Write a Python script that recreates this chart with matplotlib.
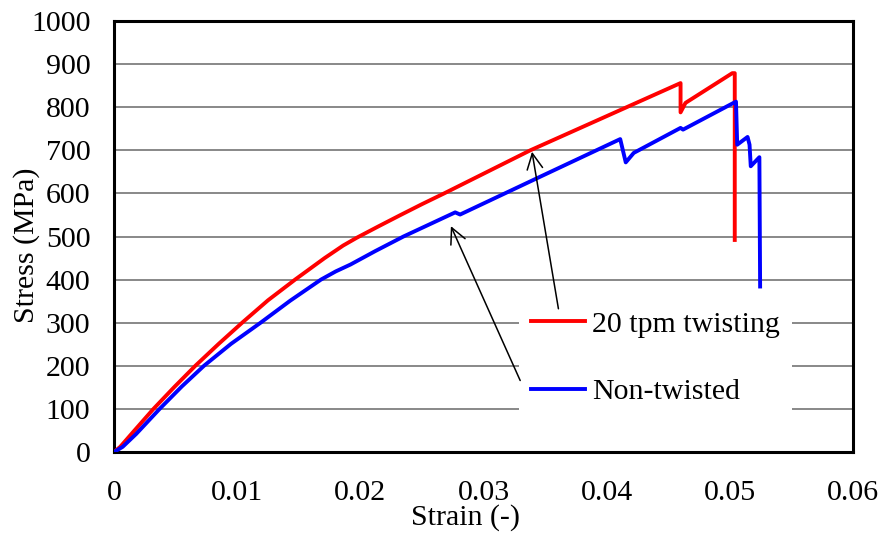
import matplotlib
matplotlib.use("Agg")
import matplotlib.pyplot as plt

plt.rcParams["font.family"] = ["Liberation Serif", "DejaVu Serif"]
FS = 21.5

# 20 tpm twisting (red)
red_strain = [0, 0.0005, 0.0016, 0.0032, 0.0049, 0.0066, 0.0085, 0.0104, 0.0125, 0.0147,
              0.0171, 0.0186, 0.0197, 0.0215, 0.0232, 0.0250, 0.0268, 0.0338, 0.0460,
              0.0460, 0.0464, 0.0502, 0.0504, 0.0504]
red_stress = [0, 12, 48, 100, 151, 200, 251, 300, 352, 400,
              450, 479, 497, 524, 549, 575, 600, 700, 856,
              788, 810, 879, 879, 492]
# Non-twisted (blue)
blue_strain = [0, 0.0007, 0.0018, 0.0037, 0.0055, 0.0073, 0.0095, 0.0119, 0.0143, 0.0168,
               0.0180, 0.0192, 0.0212, 0.0235, 0.0277, 0.0281, 0.0344, 0.0411, 0.04155,
               0.0422, 0.0460, 0.0462, 0.0505, 0.0506, 0.05144, 0.0516, 0.0517, 0.0524,
               0.05246]
blue_stress = [0, 12, 42, 100, 152, 200, 251, 300, 351, 400,
               419, 435, 466, 500, 556, 551, 636, 726, 672,
               694, 752, 748, 813, 713, 731, 713, 663, 684,
               384]

x_ticks = [0, 0.01, 0.02, 0.03, 0.04, 0.05, 0.06]
x_labels = ["0", "0.01", "0.02", "0.03", "0.04", "0.05", "0.06"]
y_ticks = list(range(0, 1001, 100))

fig = plt.figure(figsize=(8.82, 5.36), dpi=100)
ax = fig.add_axes([0.1293, 0.1567, 0.9671 - 0.1293, 0.9608 - 0.1567])

ax.plot(red_strain, red_stress, color="#ff0000", lw=2.8, label="20 tpm twisting", zorder=3)
ax.plot(blue_strain, blue_stress, color="#0000ff", lw=2.8, label="Non-twisted", zorder=3)

ax.set_xlim(0, 0.06); ax.set_ylim(0, 1000)
ax.set_xticks(x_ticks); ax.set_xticklabels(x_labels)
ax.set_yticks(y_ticks)
ax.tick_params(axis="both", length=0, labelsize=FS)
ax.tick_params(axis="x", pad=20)
ax.tick_params(axis="y", pad=17)
ax.grid(axis="y", color="#888888", lw=1.4, zorder=0)
ax.set_axisbelow(True)
for s in ax.spines.values():
    s.set_linewidth(2.2); s.set_color("black")

ax.set_xlabel("Strain (-)", fontsize=FS)
ax.set_ylabel("Stress (MPa)", fontsize=FS)
ax.xaxis.set_label_coords(0.475, -0.12)
ax.yaxis.set_label_coords(-0.10, 0.48)

leg = ax.legend(loc="upper left", bbox_to_anchor=(0.548, 0.355), fontsize=FS,
                frameon=True, fancybox=False, edgecolor="none", facecolor="white",
                framealpha=1, borderpad=0.4, borderaxespad=0, handlelength=1.8,
                handletextpad=0.25, labelspacing=1.35)

arr = dict(arrowstyle="->", color="black", lw=1.1, mutation_scale=28)
ax.annotate("", xy=(0.02726, 530), xytext=(0.03307, 160), arrowprops=arr, zorder=6)
ax.annotate("", xy=(0.0339, 703), xytext=(0.03612, 326), arrowprops=arr, zorder=6)

fig.savefig("out.png", dpi=100)
